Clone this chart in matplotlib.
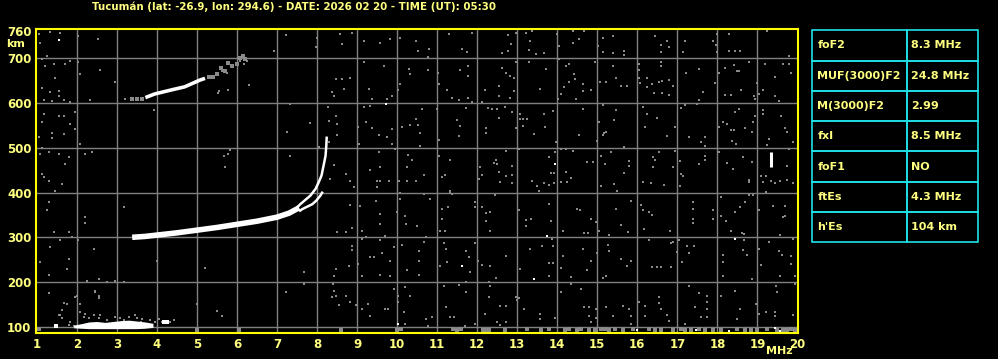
import matplotlib
matplotlib.use("Agg")
import matplotlib.pyplot as plt
from matplotlib.patches import Rectangle

# ---------------- data ----------------
title = "Tucumán (lat: -26.9, lon: 294.6) - DATE: 2026 02 20 - TIME (UT): 05:30"
freq_ticks = list(range(1, 21))
height_ticks = [100, 200, 300, 400, 500, 600, 700, 760]

param_names = ["foF2", "MUF(3000)F2", "M(3000)F2", "fxI", "foF1", "ftEs", "h'Es"]
param_values = ["8.3 MHz", "24.8 MHz", "2.99", "8.5 MHz", "NO", "4.3 MHz", "104 km"]

# F2 trace, thick low part
f2_freq = [3.38, 3.7, 4.0, 4.5, 5.0, 5.5, 6.0, 6.5, 7.0, 7.3, 7.55]
f2_height = [300, 302, 305, 310, 316, 322, 329, 336, 345, 354, 366]
# F2 ordinary branch near the cusp
f2o_freq = [7.45, 7.58, 7.83, 7.96, 8.04, 8.11, 8.17, 8.21, 8.23, 8.24]
f2o_height = [362, 374, 393, 408, 423, 438, 464, 482, 505, 525]
# F2 second branch
f2x_freq = [7.55, 7.63, 7.88, 7.98, 8.08, 8.14]
f2x_height = [358, 363, 374, 382, 393, 402]
# second hop F2 trace (white part, then faint part)
hop2_freq = [3.71, 3.94, 4.4, 4.69, 5.07, 5.2]
hop2_height = [612, 620, 630, 636, 651, 655]
hop2_faint_freq = [3.38, 3.5, 3.63, 5.3, 5.4, 5.5, 5.61, 5.7, 5.78, 5.88, 5.99, 6.08, 6.15, 6.2]
hop2_faint_height = [609, 609, 609, 657, 659, 665, 677, 672, 690, 683, 688, 700, 705, 698]
# sporadic E trace
es_freq = [1.92, 2.1, 2.3, 2.5, 2.7, 2.9, 3.1, 3.3, 3.5, 3.7, 3.9]
es_low = [98, 97, 96, 96, 96, 96, 96, 96, 96, 97, 99]
es_high = [104, 107, 111, 112, 110, 112, 114, 115, 113, 111, 108]
es_spot_freq = [1.48, 4.17, 4.21, 4.25]
es_spot_height = [103, 110, 110, 110]
es_faint_freq = [1.58, 1.67, 1.63, 1.83, 1.79, 2.08, 2.17, 2.29, 2.42, 2.54, 2.58, 2.75, 2.96,
                 3.08, 3.17, 3.29, 3.46, 3.5, 3.63, 3.83, 3.96, 4.04, 4.13, 4.33, 4.42, 2.0,
                 2.44, 2.54, 2.08, 1.92, 3.6, 3.75, 2.2]
es_faint_height = [127, 153, 138, 112, 104, 134, 123, 119, 127, 119, 127, 116, 123,
                   119, 116, 123, 127, 119, 117, 116, 112, 117, 112, 112, 116, 168,
                   179, 168, 152, 101, 112, 105, 101]
# strong isolated echo near 19.3 MHz
spike_freq = [19.35, 19.35, 19.42]
spike_height = [456, 490, 478]

# background noise dots (gray)
noise_freq = [
    1.04, 1.08, 1.33, 1.58, 2.03, 2.53, 1.25, 1.13, 1.83, 2.03, 1.42, 1.71, 1.21, 2.08, 2.58,
    1.44, 2.96, 1.13, 1.33, 1.54, 1.54, 1.17, 1.38, 1.67, 1.83, 2.33, 3.21, 3.92, 1.17, 1.54,
    1.67, 1.94, 1.13, 1.83, 1.94, 1.38, 1.67, 1.06, 1.38, 2.08, 1.08, 1.29, 1.54, 1.79, 1.13,
    2.21, 2.38, 1.71, 1.13, 1.17, 1.29, 1.63, 1.46, 1.29, 1.25, 2.21, 2.19, 3.17, 1.42, 1.79,
    1.58, 1.88, 2.03, 1.33, 2.42, 1.08, 1.79, 1.75, 1.29, 4.0, 5.21, 2.25, 2.54, 2.75, 2.96,
    3.17, 1.29, 1.96, 2.54, 2.46, 1.54, 1.63, 1.75, 2.21, 5.0, 5.5, 5.63, 5.67, 5.78, 5.83,
    5.69, 5.54, 5.53, 5.78, 5.38, 5.63, 5.75, 5.88,
    6.08, 6.17, 6.13, 6.25, 6.29, 6.92, 7.23, 8.0, 7.96, 8.58, 8.63, 8.88, 9.17, 9.58, 9.83,
    10.08, 10.46, 10.53, 10.79, 10.77, 9.17, 9.67, 10.29, 10.33, 10.08, 10.77, 8.46, 8.63, 8.67,
    8.83, 8.38, 8.42, 9.29, 9.38, 9.75, 9.88, 10.02, 9.17, 9.33, 7.33, 7.83, 8.27, 8.46, 8.29,
    8.5, 9.02, 9.21, 9.38, 9.54, 9.75, 9.88, 10.13, 10.33, 10.53, 10.58, 10.63, 10.46, 7.25,
    8.5, 8.29, 9.04, 9.88, 9.94, 10.58, 7.33, 8.04, 8.42, 8.71, 9.33, 9.54, 9.58, 10.27, 10.38,
    10.25, 10.67, 8.33, 8.83, 9.5, 9.58, 9.79, 10.04, 10.25, 10.46, 8.92, 9.5, 10.08, 10.08,
    10.67, 10.83, 8.83, 9.08, 9.46, 9.58, 9.58, 10.0, 10.19, 10.21, 10.5, 8.5, 8.71, 8.88,
    9.13, 9.13, 9.23, 9.58, 9.69, 8.88, 8.88, 9.33, 9.42, 9.63, 9.83, 9.92, 10.13, 10.54,
    10.67, 10.73, 10.54, 8.79, 9.02, 8.46, 8.42, 9.13, 9.58, 9.83, 10.25, 10.54, 7.67, 7.67,
    7.23, 8.4, 8.43, 8.48, 8.38, 8.71, 8.54, 8.83, 8.97, 9.13, 9.28, 9.31, 9.69, 9.77, 9.92,
    10.19, 10.33, 10.03, 10.03, 10.17, 10.19, 10.73, 10.88, 10.78,
    11.29, 11.88, 11.63, 11.75, 12.63, 12.77, 12.98, 12.85, 12.77, 13.21, 13.38, 13.33, 13.29,
    13.46, 13.67, 14.0, 14.04, 14.38, 14.38, 14.54, 14.67, 15.02, 15.13, 15.38, 15.67, 15.67,
    15.38, 15.13, 11.03, 11.04, 11.25, 11.58, 11.77, 11.77, 11.38, 11.54, 11.77, 11.88, 12.19,
    12.13, 12.54, 12.54, 12.63, 12.73, 12.83, 12.92, 12.83, 12.93, 12.98, 13.29, 13.58, 13.71,
    14.04, 14.02, 14.08, 14.21, 14.29, 14.42, 14.44, 14.29, 14.17, 14.63, 14.63, 14.83, 14.47,
    14.94, 15.07, 15.21, 15.38, 15.46, 15.58, 15.75, 11.0, 11.5, 11.58, 11.54, 11.04, 11.72,
    12.21, 12.21, 12.27, 12.38, 12.5, 12.54, 12.69, 12.88, 12.96, 13.06, 13.06, 13.15, 13.25,
    13.15, 13.42, 13.67, 13.69, 13.88, 13.96, 14.54, 14.63, 15.04, 15.15, 15.13, 15.17, 15.21,
    15.42, 15.46, 14.99, 11.04, 11.33, 11.13, 11.19, 12.04, 11.33, 11.38, 12.08, 12.13, 12.42,
    12.46, 12.5, 12.71, 12.54, 12.73, 12.88, 12.88, 12.58, 12.88, 13.04, 13.38, 13.5, 13.54,
    13.67, 13.79, 13.83, 13.92, 13.92, 13.94, 13.79, 14.08, 14.21, 14.25, 14.33, 14.08, 14.21,
    14.38, 14.75, 14.88, 15.08, 15.08, 15.19, 15.33, 15.42, 15.5, 15.67, 15.67, 15.79, 15.79,
    11.13, 11.13, 11.28, 11.33, 11.08, 11.19, 11.94, 11.94, 12.13, 12.23, 12.23, 12.33, 12.33,
    12.44, 13.04, 13.23, 13.34, 13.23, 13.79, 13.83, 13.86, 14.13, 14.5, 14.56, 14.83, 14.67,
    14.77, 14.96, 15.03, 15.29, 15.46, 15.58, 15.83, 15.77, 11.17, 11.21, 11.08, 11.25, 11.72,
    11.79, 11.83, 11.94, 12.03, 12.13, 12.33, 12.48, 12.71, 13.08, 13.33, 13.63, 13.78, 13.88,
    13.78, 13.88, 14.08, 14.13, 14.33, 14.63, 14.73, 14.83, 14.98, 15.13, 15.21, 15.26, 15.28,
    15.58, 15.75, 15.83, 11.17, 11.54, 11.71, 11.71, 12.29, 12.33, 12.29, 13.0, 13.04, 12.96,
    13.17, 12.58, 12.71, 11.21, 11.33, 11.42, 12.19, 12.5, 12.58, 12.71, 11.94, 11.69, 13.58,
    13.58, 13.94, 14.08, 14.33, 14.58, 14.67, 14.79, 14.79, 14.96, 14.83, 14.96, 15.21, 15.4,
    15.63, 15.79, 15.83, 15.83,
    16.44, 16.58, 16.58, 16.73, 16.78, 17.13, 17.19, 17.9, 17.97, 17.98, 17.98, 18.28, 18.28,
    18.44, 18.57, 19.23, 19.78, 16.03, 16.05, 16.05, 16.23, 16.23, 16.07, 16.36, 16.42, 16.58,
    16.58, 16.55, 16.62, 16.62, 16.79, 16.88, 16.79, 17.22, 17.53, 17.63, 17.55, 17.94, 18.05,
    18.19, 18.19, 18.33, 18.48, 18.53, 18.42, 18.58, 18.78, 18.92, 18.94, 19.0, 19.05, 19.13,
    19.19, 19.44, 19.44, 19.63, 19.8, 19.83, 19.53, 16.13, 16.23, 16.19, 16.48, 16.73, 16.94,
    17.08, 17.19, 17.28, 17.48, 17.69, 17.6, 17.69, 18.05, 18.13, 18.25, 18.33, 18.42, 18.44,
    18.53, 18.69, 18.36, 18.47, 18.86, 18.9, 18.94, 19.15, 19.15, 19.28, 19.59, 19.69, 19.73,
    19.88, 19.23, 16.38, 16.44, 16.53, 16.38, 16.13, 16.33, 16.67, 16.88, 16.94, 17.07, 17.08,
    17.13, 17.07, 17.55, 17.69, 17.69, 18.05, 18.23, 18.4, 18.63, 18.78, 18.78, 18.86, 19.09,
    19.15, 19.22, 19.22, 19.33, 19.44, 19.57, 19.73, 19.73, 19.9, 19.8, 16.08, 16.13, 16.3,
    16.36, 16.17, 16.82, 17.38, 17.38, 17.38, 17.38, 17.88, 17.88, 18.08, 18.22, 18.08, 18.44,
    18.57, 18.69, 18.78, 18.9, 19.03, 18.33, 18.61, 18.67, 19.38, 19.69, 19.69, 19.63, 19.57,
    16.3, 16.83, 16.9, 17.03, 17.0, 17.23, 17.42, 17.3, 16.36, 16.5, 16.58, 16.83, 17.11,
    18.13, 18.13, 18.63, 18.67, 18.75, 19.05, 19.28, 19.1, 19.53, 19.61, 19.83, 19.85, 19.88,
    19.57, 19.93, 18.86, 18.13, 16.05, 16.19, 16.19, 16.55, 16.53, 16.6, 16.73, 16.78, 17.3,
    17.53, 17.73, 17.73, 17.73, 17.73, 17.44, 17.6, 17.18, 18.08, 18.44, 18.57, 18.48, 18.97,
    19.05, 19.22, 19.47, 19.48, 19.44, 19.44, 19.88, 19.93,
]
noise_height = [
    754, 735, 758, 756, 749, 743, 705, 698, 694, 692, 687, 687, 683, 665, 674,
    655, 647, 633, 625, 627, 616, 607, 605, 607, 603, 607, 609, 585, 575, 572,
    572, 579, 558, 553, 542, 534, 531, 523, 522, 508, 486, 490, 486, 479, 499,
    486, 490, 464, 441, 434, 426, 419, 404, 378, 360, 345, 333, 367, 311, 311,
    295, 300, 293, 278, 274, 244, 252, 229, 216, 248, 231, 203, 206, 201, 203,
    200, 176, 166, 164, 181, 127, 119, 151, 129, 151, 136, 125, 482, 486, 496,
    456, 627, 622, 630, 657, 672, 668, 683,
    694, 687, 705, 694, 640, 717, 752, 744, 724, 754, 732, 756, 739, 734, 743,
    746, 739, 717, 720, 702, 692, 683, 676, 665, 642, 674, 653, 653, 631,
    655, 624, 616, 631, 609, 609, 616, 629, 590, 594, 598, 555, 592, 570, 560,
    553, 546, 557, 545, 528, 523, 542, 546, 551, 551, 534, 586, 564, 536,
    528, 512, 508, 508, 497, 503, 482, 501, 461, 441, 451, 491, 458, 484, 473,
    456, 439, 430, 426, 426, 426, 426, 426, 426, 426, 412, 412, 399, 386,
    397, 386, 373, 371, 382, 352, 330, 356, 347, 330, 325, 311, 311, 320,
    315, 296, 300, 293, 304, 281, 272, 255, 255, 266, 248, 278, 283, 270,
    289, 300, 248, 237, 241, 229, 213, 214, 216, 214, 226, 216, 222, 196,
    177, 196, 181, 170, 166, 170, 149, 155, 149, 139, 151, 125, 139, 139, 185,
    188, 168, 168, 155, 134, 107, 118, 121, 103,
    754, 756, 720, 714, 711, 752, 756, 732, 717, 756, 761, 739, 719,
    709, 711, 754, 728, 761, 735, 743, 761, 728, 746, 750, 717, 707,
    711, 713, 668, 642, 630, 674, 683, 661, 610, 607, 610, 603, 630,
    603, 638, 616, 679, 667, 661, 655, 612, 627, 691, 691, 631, 676,
    698, 609, 620, 683, 687, 665, 653, 647, 635, 642, 627, 630, 609,
    691, 647, 647, 683, 655, 638, 638, 586, 563, 549, 527, 518, 589,
    543, 534, 588, 586, 586, 566, 590, 579, 543, 575, 564, 564, 564,
    548, 531, 575, 546, 583, 512, 528, 586, 558, 595, 528, 534, 536,
    563, 585, 514, 482, 473, 434, 439, 430, 404, 397, 456, 439, 467,
    473, 464, 493, 445, 438, 439, 460, 423, 421, 497, 426, 415, 404,
    421, 417, 444, 444, 421, 491, 479, 424, 446, 423, 432, 497, 497,
    493, 469, 469, 482, 415, 464, 490, 419, 404, 444, 501, 471, 460,
    363, 341, 367, 400, 313, 313, 378, 367, 367, 354, 337, 356, 315,
    394, 360, 339, 342, 325, 374, 337, 296, 315, 363, 360, 341, 310,
    310, 335, 315, 305, 363, 328, 382, 311, 287, 274, 237, 244, 270,
    255, 222, 287, 248, 238, 237, 209, 259, 229, 274, 281, 243, 243,
    214, 281, 231, 259, 211, 274, 226, 248, 266, 209, 214, 283, 270,
    252, 237, 248, 192, 194, 200, 179, 200, 192, 166, 159, 164, 166,
    140, 147, 147, 144, 121, 121, 129, 110, 104, 110, 107, 103, 129,
    118, 119, 177, 196, 185, 144, 144, 125, 141, 110, 119, 144, 125,
    147, 139, 125, 107,
    749, 729, 713, 739, 724, 713, 739, 739, 729, 713, 754, 754, 717,
    717, 717, 761, 704, 687, 674, 655, 655, 635, 645, 642, 622, 691,
    682, 646, 648, 622, 652, 637, 618, 668, 676, 625, 607, 645, 668,
    679, 618, 618, 672, 672, 685, 630, 691, 616, 609, 645, 620, 630,
    687, 659, 616, 687, 687, 668, 605, 592, 575, 546, 566, 527, 546,
    588, 595, 525, 598, 523, 512, 505, 546, 558, 553, 540, 540, 580,
    586, 543, 514, 508, 536, 557, 570, 585, 575, 520, 570, 543, 536,
    512, 506, 479, 473, 491, 456, 423, 421, 417, 456, 493, 471, 441,
    438, 415, 464, 482, 473, 491, 467, 452, 479, 429, 424, 469, 436,
    424, 437, 402, 426, 421, 426, 460, 429, 421, 497, 372, 360, 357,
    350, 319, 315, 378, 363, 342, 333, 360, 341, 348, 337, 391, 356,
    367, 378, 394, 394, 360, 315, 310, 307, 371, 371, 347, 345, 305,
    295, 287, 289, 293, 268, 280, 280, 265, 233, 233, 233, 233, 244,
    261, 244, 272, 293, 261, 274, 289, 238, 270, 261, 259, 240, 296,
    213, 213, 208, 213, 156, 147, 125, 166, 153, 139, 127, 114, 191,
    176, 170, 155, 140, 121, 144, 121, 107, 170, 181, 140, 118, 151,
    129, 134, 191, 177, 134, 125, 127, 196,
]
# clutter along the lowest heights
bottom_freq = [1.05, 5.0, 6.05, 8.6, 10.0, 10.1, 11.4, 11.5, 11.6, 12.15, 12.2, 12.3, 12.7, 13.25,
               13.6, 13.8, 14.2, 14.3, 14.5, 14.6, 14.8, 14.95, 15.1, 15.2, 15.3, 15.45, 15.65,
               15.9, 16.3, 16.45, 16.6, 16.9, 17.1, 17.2, 17.35, 17.55, 17.7, 17.9, 18.1, 18.5,
               18.7, 18.85, 19.0, 19.25, 19.5, 19.65, 19.75, 19.85, 19.95]
bottom_height = [95, 92, 93, 94, 93, 95, 96, 94, 96, 93, 92, 93, 94, 95,
                 93, 95, 94, 96, 93, 95, 94, 93, 95, 96, 93, 95, 94,
                 96, 95, 93, 94, 92, 95, 93, 94, 96, 92, 94, 93, 95,
                 93, 94, 92, 96, 93, 94, 92, 95, 93]
white_specks_freq = [1.55, 9.73, 13.93, 13.73, 11.63, 13.42, 18.44, 10.03, 16.0, 17.47, 18.28,
                     19.44, 19.57]
white_specks_height = [740, 598, 464, 304, 237, 207, 296, 107, 93, 92, 90, 98, 90]

# ---------------- style ----------------
BG = "black"
YEL = "#ffff80"
SPINE = "#ffff00"
GRID = "#808080"
NOISE = "#8a8a8a"
CYAN = "#20e0e8"

W, H = 998, 359
fig = plt.figure(figsize=(W / 100, H / 100), dpi=100, facecolor=BG)
ax = fig.add_axes([35.7 / W, 26.3 / H, (798.3 - 35.7) / W, (332.7 - 29.3) / H], facecolor=BG)
ax.set_xlim(0.97, 20.02)
ax.set_ylim(87, 764.5)

for f in freq_ticks[1:-1]:
    ax.axvline(f, color=GRID, lw=1.0, zorder=1)
for h in height_ticks[:-1]:
    ax.axhline(h, color=GRID, lw=1.0, zorder=1)

ax.scatter(noise_freq, noise_height, s=3.2, marker="s", color=NOISE, linewidths=0, zorder=2)
ax.scatter(bottom_freq, bottom_height, s=5, marker="s", color=NOISE, linewidths=0, zorder=2)
ax.scatter(es_faint_freq, es_faint_height, s=4, marker="s", color=NOISE, linewidths=0, zorder=2)
ax.scatter(hop2_faint_freq, hop2_faint_height, s=5, marker="s", color=NOISE, linewidths=0, zorder=2)

ax.fill_between(es_freq, es_low, es_high, color="white", lw=0, zorder=3)
ax.scatter(es_spot_freq, es_spot_height, s=5, marker="s", color="white", linewidths=0, zorder=3)
ax.scatter(white_specks_freq, white_specks_height, s=4, marker="s", color="white", linewidths=0, zorder=3)

ax.plot(f2_freq, f2_height, color="white", lw=4.0, solid_capstyle="butt", zorder=4)
ax.plot(f2o_freq, f2o_height, color="white", lw=1.8, solid_capstyle="butt", zorder=4)
ax.plot(f2x_freq, f2x_height, color="white", lw=1.8, solid_capstyle="butt", zorder=4)
ax.plot(hop2_freq, hop2_height, color="white", lw=2.6, solid_capstyle="butt", zorder=4)
ax.plot(spike_freq[:2], spike_height[:2], color="white", lw=2.2, solid_capstyle="butt", zorder=4)

for s in ax.spines.values():
    s.set_color(SPINE)
    s.set_linewidth(1.5)

ax.set_xticks(freq_ticks)
ax.set_xticklabels([str(f) for f in freq_ticks])
ax.set_yticks(height_ticks)
ax.set_yticklabels([str(h) for h in height_ticks])
ax.tick_params(axis="both", length=0, colors=YEL, labelsize=8.5)
ax.tick_params(axis="x", pad=4)
ax.tick_params(axis="y", pad=3)
for lab in ax.get_xticklabels() + ax.get_yticklabels():
    lab.set_fontweight("bold")

fig.text(6 / W, 1 - 44 / H, "km", color=YEL, fontsize=8, fontweight="bold", ha="left", va="center")
fig.text(779 / W, 1 - 351 / H, "MHz", color=YEL, fontsize=8, fontweight="bold", ha="center", va="center")
fig.text(294 / W, 1 - 7 / H, title, color=YEL, fontsize=7.4, fontweight="bold", ha="center", va="center")

# parameter table
tx0, tx1, txm = 812.3, 977.7, 907.3
ty0, ty1 = 30.3, 242.3
rh = (ty1 - ty0) / len(param_names)
for i, (name, val) in enumerate(zip(param_names, param_values)):
    top = ty0 + i * rh
    fig.patches.append(Rectangle((tx0 / W, 1 - (top + rh) / H), (txm - tx0) / W, rh / H,
                                 transform=fig.transFigure, fill=False, ec=CYAN, lw=1.2))
    fig.patches.append(Rectangle((txm / W, 1 - (top + rh) / H), (tx1 - txm) / W, rh / H,
                                 transform=fig.transFigure, fill=False, ec=CYAN, lw=1.2))
    fig.text((tx0 + 5) / W, 1 - (top + rh / 2) / H, name, color=YEL, fontsize=8,
             fontweight="bold", ha="left", va="center")
    fig.text((txm + 4) / W, 1 - (top + rh / 2) / H, val, color=YEL, fontsize=8,
             fontweight="bold", ha="left", va="center")

fig.savefig("out.png", dpi=100, facecolor=BG)
